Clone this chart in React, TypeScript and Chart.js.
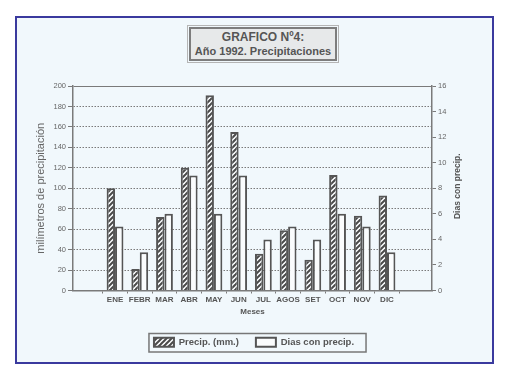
import React, { useEffect, useRef } from "react";
import { Chart, registerables } from "chart.js";

Chart.register(...registerables);

const months = ["ENE", "FEBR", "MAR", "ABR", "MAY", "JUN", "JUL", "AGOS", "SET", "OCT", "NOV", "DIC"];
const precipMM = [100, 21, 72, 120, 191, 155, 36, 59, 30, 113, 73, 93];
const rainDays = [5, 3, 6, 9, 6, 9, 4, 5, 4, 6, 5, 3];
const titleLines = ["GRAFICO Nº4:", "Año 1992. Precipitaciones"];

const FONT = "'Liberation Sans', Arial, sans-serif";
const DARK = "#555";
const AXIS = "#7a7a7a";

function makeHatch(): CanvasPattern | string {
  const c = document.createElement("canvas");
  const p = 5;
  c.width = p;
  c.height = p;
  const g = c.getContext("2d");
  if (!g) return DARK;
  g.fillStyle = "#fbfdfe";
  g.fillRect(0, 0, p, p);
  g.strokeStyle = "#4a4a4a";
  g.lineWidth = 2;
  g.lineCap = "square";
  for (const k of [0, p, 2 * p]) {
    g.beginPath();
    g.moveTo(k + 1, -1);
    g.lineTo(-1, k + 1);
    g.stroke();
  }
  const pat = g.createPattern(c, "repeat");
  return pat || DARK;
}

const framePlugin = {
  id: "extras",
  afterDraw(chart: any) {
    const ctx = chart.ctx;
    const legend = chart.legend;
    if (legend && legend.legendHitBoxes && legend.legendHitBoxes.length) {
      const hb = legend.legendHitBoxes;
      const l = hb[0].left - 5;
      const r = hb[hb.length - 1].left + hb[hb.length - 1].width + 12;
      const t = hb[0].top - 4;
      const b = hb[0].top + hb[0].height + 5;
      ctx.save();
      ctx.strokeStyle = "#777";
      ctx.lineWidth = 1.5;
      ctx.strokeRect(l, t, r - l, b - t);
      ctx.restore();
    }
    const ca = chart.chartArea;
    ctx.save();
    ctx.translate(458, (ca.top + ca.bottom) / 2 - 2);
    ctx.rotate(-Math.PI / 2);
    ctx.font = `bold 8.5px ${FONT}`;
    ctx.fillStyle = DARK;
    ctx.textAlign = "center";
    ctx.textBaseline = "middle";
    ctx.fillText("Dias con precip.", 0, 0);
    ctx.restore();
  },
};

export default function App() {
  const ref = useRef<HTMLCanvasElement | null>(null);
  useEffect(() => {
    if (!ref.current) return;
    const hatch = makeHatch();
    const chart = new Chart(ref.current, {
      type: "bar",
      data: {
        datasets: [
          {
            label: "Precip. (mm.)",
            data: precipMM.map((v, i) => ({ x: i + 1, y: v })),
            backgroundColor: hatch as any,
            borderColor: DARK,
            borderWidth: 2,
            yAxisID: "y",
            barPercentage: 1,
            categoryPercentage: 0.68,
          },
          {
            label: "Dias con precip.",
            data: rainDays.map((v, i) => ({ x: i + 1, y: v })),
            backgroundColor: "#fafcfd",
            borderColor: DARK,
            borderWidth: 2,
            yAxisID: "y2",
            barPercentage: 1,
            categoryPercentage: 0.68,
          },
        ],
      },
      options: {
        responsive: false,
        animation: false,
        devicePixelRatio: 1,
        layout: { padding: { left: 30, right: 30, top: 86, bottom: 23 } },
        plugins: {
          tooltip: { enabled: false },
          legend: {
            position: "bottom",
            labels: {
              boxWidth: 20,
              boxHeight: 9,
              padding: 17,
              color: DARK,
              font: { family: FONT, size: 9.5, weight: "bold" },
            },
          },
        },
        scales: {
          x: {
            type: "linear",
            offset: false,
            min: -0.7,
            max: 13.82,
            afterBuildTicks: (s: any) => {
              s.ticks = months.map((_, i) => ({ value: i + 1 }));
            },
            afterFit: (s: any) => {
              s.height = 30;
            },
            ticks: {
              autoSkip: false,
              maxRotation: 0,
              padding: 1,
              color: DARK,
              font: { family: FONT, size: 8, weight: "bold" },
              callback: (v: any) => months[Math.round(v) - 1] ?? "",
            },
            grid: {
              offset: true,
              drawOnChartArea: false,
              tickLength: 3,
              color: AXIS,
            },
            border: { color: AXIS, width: 1.5 },
            title: {
              display: true,
              text: "Meses",
              color: DARK,
              padding: { top: 0, bottom: 4 },
              font: { family: FONT, size: 8, weight: "bold" },
            },
          },
          y: {
            position: "left",
            min: 0,
            max: 200,
            afterFit: (s: any) => {
              s.width = 43;
            },
            ticks: {
              stepSize: 20,
              padding: 2,
              color: "#666",
              font: { family: FONT, size: 7.5 },
            },
            grid: {
              color: AXIS,
              tickLength: 5,
              lineWidth: 1,
            },
            border: {
              color: AXIS,
              width: 1.5,
              dash: (c: any) => (c.tick && (c.tick.value === 200 || c.tick.value === 0) ? [] : [1.5, 1.5]),
            } as any,
            title: {
              display: true,
              text: "milímetros de precipitación",
              color: "#666",
              padding: { top: 4, bottom: 0 },
              font: { family: FONT, size: 11 },
            },
          },
          y2: {
            position: "right",
            min: 0,
            max: 16,
            afterFit: (s: any) => {
              s.width = 46;
            },
            ticks: {
              stepSize: 2,
              padding: 2,
              color: "#666",
              font: { family: FONT, size: 7.5 },
            },
            grid: {
              drawOnChartArea: false,
              color: AXIS,
              tickLength: 4,
            },
            border: { color: AXIS, width: 1.5 },
          },
        },
      } as any,
      plugins: [framePlugin],
    });
    return () => chart.destroy();
  }, []);

  return (
    <div style={{ position: "absolute", left: 0, top: 0, width: 508, height: 380, background: "#fff", overflow: "hidden" }}>
      <div
        style={{
          position: "absolute",
          left: 15,
          top: 16,
          width: 479,
          height: 348,
          boxSizing: "border-box",
          border: "2px solid #3a3a9e",
          background: "#f1f8fc",
        }}
      />
      <div
        style={{
          position: "absolute",
          left: 189,
          top: 27,
          width: 148,
          height: 34,
          boxSizing: "border-box",
          border: "2px solid #7d7d7d",
          outline: "1px solid #b5b5b5",
          outlineOffset: 1,
          background: "#e7e9ea",
          color: "#555",
          fontFamily: FONT,
          fontWeight: "bold",
          textAlign: "center",
          fontSize: 12,
          lineHeight: "14px",
          paddingTop: 1,
          whiteSpace: "nowrap",
        }}
      >
        <div>{titleLines[0]}</div>
        <div style={{ fontSize: 11 }}>{titleLines[1]}</div>
      </div>
      <canvas ref={ref} width={508} height={380} style={{ position: "absolute", left: 0, top: 0 }} />
    </div>
  );
}
